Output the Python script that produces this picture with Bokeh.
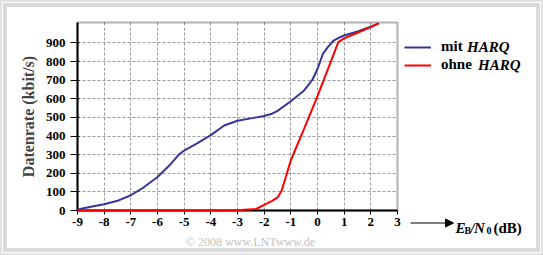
from bokeh.plotting import figure
from bokeh.models import (FixedTicker, Label, Arrow, NormalHead, Legend, LegendItem, Range1d,
                          BoxAnnotation)
from bokeh.embed import file_html
from bokeh.resources import INLINE

# ---- data ----
snr_harq = [-9, -8.5, -8, -7.5, -7, -6.5, -6, -5.5, -5.2, -5, -4.5, -4, -3.5, -3, -2.5, -2,
            -1.7, -1.5, -1, -0.5, -0.2, 0, 0.2, 0.4, 0.6, 0.8, 1, 1.5, 2, 2.3]
rate_harq = [5, 20, 34, 52, 82, 126, 180, 250, 300, 322, 362, 405, 457, 482, 495, 508,
             520, 535, 587, 645, 700, 760, 840, 880, 912, 928, 940, 962, 988, 1005]
snr_plain = [-9, -5, -3, -2.3, -2, -1.7, -1.5, -1.35, -1.2, -1, -0.5, 0, 0.5, 0.78, 1, 1.5, 2, 2.3]
rate_plain = [0, 0, 2, 8, 30, 52, 70, 105, 175, 270, 440, 615, 800, 905, 925, 955, 985, 1005]
x_ticks = list(range(-9, 4))
y_ticks = list(range(0, 1000, 100))
series_labels = ["mit", "ohne"]
series_name = "HARQ"
y_title = "Datenrate (kbit/s)"
copyright_text = "\u00a9 2008 www.LNTwww.de"

BLUE = "#363699"
RED = "#ff0000"
FONT = "Liberation Serif"

# ---- layout: the frame covers the whole canvas; plot box sits at these pixels ----
W, H = 543, 255
L, R, T, B = 77, 397, 22, 210          # plot-box edges in page pixels
X0, X1, Y0, Y1 = -9, 3, 0, 1010        # plot-box edges in data units
SX = (X1 - X0) / (R - L)
SY = (Y1 - Y0) / (B - T)


def px2x(px):
    return X0 + (px - L) * SX


def py2y(py):
    return Y0 + (B - py) * SY


p = figure(width=W, height=H,
           x_range=Range1d(px2x(0), px2x(W)), y_range=Range1d(py2y(H), py2y(0)),
           output_backend="svg", toolbar_location=None,
           min_border=0, min_border_left=0, min_border_right=0,
           min_border_top=0, min_border_bottom=0)
p.border_fill_alpha = 0
p.background_fill_alpha = 0
p.outline_line_color = None
p.styles = {"background-color": "white",
            "box-shadow": "inset 0 0 0 2px #e2e2e2, inset 0 0 0 3px white, inset 0 0 0 7px #dadada"}

for ax in (p.xaxis, p.yaxis):
    ax.axis_line_width = 2
    ax.axis_line_color = "black"
    ax.major_tick_line_color = "black"
    ax.major_tick_line_width = 1
    ax.minor_tick_line_color = None
    ax.major_label_text_font = FONT
    ax.major_label_text_font_style = "bold"
    ax.major_label_text_font_size = "13px"
    ax.major_label_text_color = "black"

p.xaxis.fixed_location = Y0
p.xaxis.bounds = (X0, X1)
p.xaxis.ticker = FixedTicker(ticks=x_ticks)
p.xaxis.major_label_overrides = {t: str(t) for t in x_ticks}
p.xaxis.major_tick_out = 4
p.xaxis.major_tick_in = 0
p.xaxis.major_label_standoff = 3

p.yaxis.fixed_location = X0
p.yaxis.bounds = (Y0, Y1)
p.yaxis.ticker = FixedTicker(ticks=y_ticks)
p.yaxis.major_tick_out = 7
p.yaxis.major_tick_in = 2
p.yaxis.major_label_standoff = 5
p.yaxis.axis_label = y_title
p.yaxis.axis_label_text_font = FONT
p.yaxis.axis_label_text_font_style = "bold"
p.yaxis.axis_label_text_font_size = "16px"
p.yaxis.axis_label_standoff = 6

p.xgrid.ticker = FixedTicker(ticks=x_ticks[1:-1])
p.ygrid.ticker = FixedTicker(ticks=y_ticks[1:])
p.xgrid.bounds = (X0, X1)
p.xgrid.cross_bounds = (Y0, Y1)
p.ygrid.bounds = (Y0, Y1)
p.ygrid.cross_bounds = (X0, X1)
for g in (p.xgrid, p.ygrid):
    g.grid_line_color = "#999999"
    g.grid_line_dash = "3 2"
    g.grid_line_width = 1

# plot box (frame outline)
p.add_layout(BoxAnnotation(left=X0, right=X1, bottom=Y0, top=Y1, fill_alpha=0,
                           line_color="black", line_width=2, level="underlay"))

rb = p.line(snr_harq, rate_harq, line_color=BLUE, line_width=2, level="overlay")
rr = p.line(snr_plain, rate_plain, line_color=RED, line_width=2, level="overlay")

legend = Legend(items=[LegendItem(label=series_labels[0], renderers=[rb]),
                       LegendItem(label=series_labels[1], renderers=[rr])],
                location=(404, H - 73.5), orientation="vertical",
                glyph_width=27, glyph_height=18, label_height=18, label_standoff=10,
                spacing=0, padding=0, margin=0,
                border_line_alpha=0, background_fill_alpha=0,
                label_text_font=FONT, label_text_font_style="bold",
                label_text_font_size="15px", label_text_color="black")
p.add_layout(legend)

for xp, yp in ((466.5, 46.7), (477.5, 64.3)):
    p.add_layout(Label(x=px2x(xp), y=py2y(yp), text=series_name, text_font=FONT,
                       text_font_style="bold italic", text_font_size="15px",
                       text_baseline="middle", text_align="left", text_color="black"))

# x-axis title with arrow
p.add_layout(Arrow(x_start=px2x(410), y_start=py2y(222.5), x_end=px2x(453), y_end=py2y(222.5),
                   line_color="black", line_width=1.2,
                   end=NormalHead(size=8, fill_color="black", line_color="black")))
pieces = [("E", 455, 227, "15px", "bold italic"),
          ("B", 464, 230, "10px", "bold"),
          ("/", 470, 227, "15px", "bold italic"),
          ("N", 473.5, 227, "15px", "bold italic"),
          ("0", 486, 230, "10px", "bold"),
          ("(dB)", 493, 227, "15px", "bold")]
for txt, xp, yp, sz, st in pieces:
    p.add_layout(Label(x=px2x(xp), y=py2y(yp), text=txt, text_font=FONT, text_font_style=st,
                       text_font_size=sz, text_baseline="alphabetic", text_align="left",
                       text_color="black"))

p.add_layout(Label(x=px2x(250), y=py2y(241.5), text=copyright_text, text_font=FONT,
                   text_font_size="12px", text_color="#c4c4c4", text_align="center",
                   text_baseline="alphabetic"))

open("out.html", "w").write(file_html(p, INLINE))
